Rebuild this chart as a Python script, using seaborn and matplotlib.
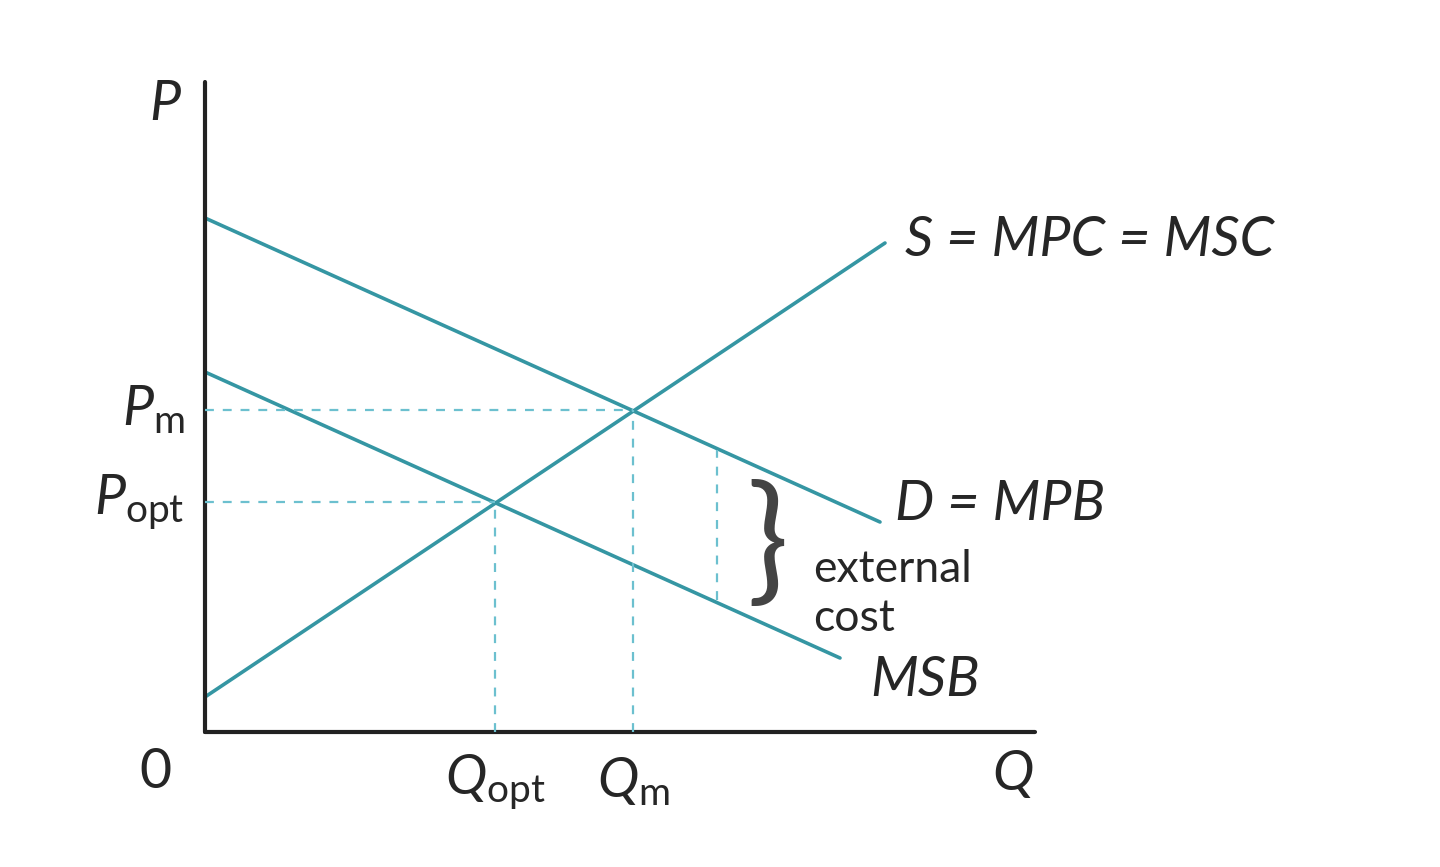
import matplotlib
matplotlib.use("Agg")
import matplotlib.pyplot as plt
import pandas as pd
import seaborn as sns

# curve endpoints in chart units (origin at the axes corner)
q_end = [0, 680]
supply = [35, 489]
q_demand = [0, 675]
demand = [514, 210]
q_msb = [0, 635]
msb = [360, 74]

q_m, p_m = 428, 322
q_opt, p_opt = 290, 230
q_ext, ext_top, ext_bottom = 512, 282, 132

TEAL = "#3596a3"
DASH = "#6cc0cf"

sns.set_theme(style="white")
plt.rcParams["mathtext.fontset"] = "custom"
plt.rcParams["mathtext.rm"] = "Lato"
plt.rcParams["mathtext.it"] = "Lato:italic"

fig = plt.figure(figsize=(14.4, 8.67), dpi=100)
ax = fig.add_axes([0, 0, 1, 1])
ax.set_xlim(-205, 1235)
ax.set_ylim(-135, 732)
ax.axis("off")

lines = pd.concat([
    pd.DataFrame({"q": q_end, "p": supply, "curve": "S"}),
    pd.DataFrame({"q": q_demand, "p": demand, "curve": "D"}),
    pd.DataFrame({"q": q_msb, "p": msb, "curve": "MSB"}),
])
sns.lineplot(data=lines, x="q", y="p", units="curve", estimator=None,
             color=TEAL, lw=2.6, ax=ax, legend=False)

# axes
ax.plot([0, 830], [0, 0], color="#222222", lw=3)
ax.plot([0, 0], [0, 650], color="#222222", lw=3)

dash = dict(color=DASH, lw=1.6, ls=(0, (4, 4)))
ax.plot([0, q_m], [p_m, p_m], **dash)
ax.plot([q_m, q_m], [0, p_m], **dash)
ax.plot([0, q_opt], [p_opt, p_opt], **dash)
ax.plot([q_opt, q_opt], [0, p_opt], **dash)
ax.plot([q_ext, q_ext], [ext_bottom, ext_top], **dash)

fs = 40
font = "Lato"
it = dict(fontsize=fs, family=font, style="italic", va="center")
ax.text(-40, 628, "P", ha="center", **it)
ax.text(-50, -40, "0", fontsize=fs, ha="center", va="center", family=font)
ax.text(808, -42, "Q", ha="center", **it)
ax.text(-20, p_m, r"$P_{\mathrm{m}}$", fontsize=fs, ha="right", va="center")
ax.text(-20, p_opt, r"$P_{\mathrm{opt}}$", fontsize=fs, ha="right", va="center")
ax.text(q_opt, -50, r"$Q_{\mathrm{opt}}$", fontsize=fs, ha="center", va="center")
ax.text(q_m, -50, r"$Q_{\mathrm{m}}$", fontsize=fs, ha="center", va="center")
ax.text(700, 492, "S = MPC = MSC", ha="left", **it)
ax.text(690, 228, "D = MPB", ha="left", **it)
ax.text(665, 52, "MSB", ha="left", **it)
ax.text(608, 138, "external\ncost", fontsize=32, ha="left", va="center",
        family=font, linespacing=1.25)
ax.text(562, 186, "}", fontsize=100, ha="center", va="center",
        family="Lato", color="#444444")

fig.savefig("out.png", dpi=100)
